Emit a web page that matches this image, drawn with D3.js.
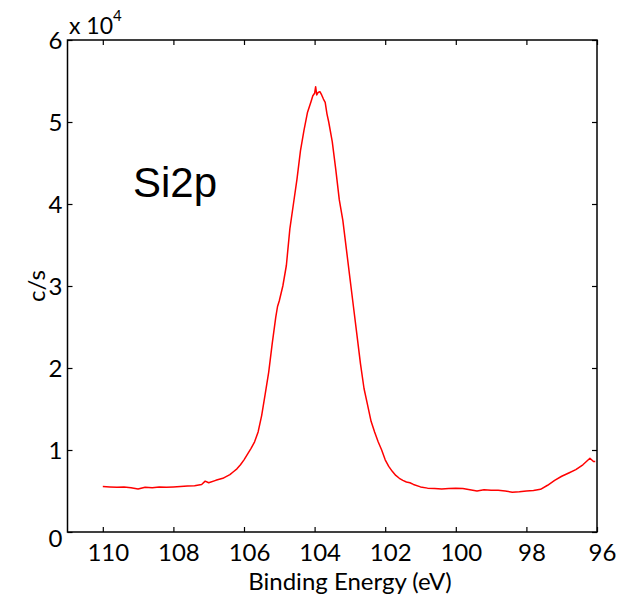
<!DOCTYPE html>
<html>
<head>
<meta charset="utf-8">
<script src="https://cdn.jsdelivr.net/npm/d3@7"></script>
<style>
  html, body { margin: 0; padding: 0; background: #fff; }
  text { font-family: Lato, "Open Sans", sans-serif; fill: #000; }
</style>
</head>
<body>
<svg id="chart" width="620" height="600"></svg>
<script>
// Binding energy (eV)
const energy = [
  110.0, 109.8, 109.6, 109.4, 109.2, 109.0, 108.8, 108.6, 108.4, 108.2,
  108.0, 107.8, 107.6, 107.4, 107.2, 107.1, 107.0, 106.8, 106.6, 106.4,
  106.3, 106.2, 106.1, 106.0, 105.9, 105.8, 105.7, 105.6, 105.5, 105.4,
  105.3, 105.2, 105.1, 105.05, 105.0, 104.9, 104.8, 104.7, 104.6, 104.5,
  104.4, 104.3, 104.2, 104.1, 104.05, 104.0, 103.97, 103.94, 103.9, 103.85,
  103.8, 103.75, 103.7, 103.65, 103.6, 103.5, 103.4, 103.3, 103.2, 103.1,
  103.0, 102.9, 102.8, 102.7, 102.6, 102.5, 102.4, 102.3, 102.2, 102.1,
  102.0, 101.9, 101.8, 101.7, 101.6, 101.5, 101.4, 101.3, 101.2, 101.0,
  100.8, 100.6, 100.4, 100.2, 100.0, 99.8, 99.6, 99.4, 99.2, 99.0,
  98.8, 98.6, 98.4, 98.2, 98.0, 97.8, 97.6, 97.4, 97.2, 97.0,
  96.8, 96.6, 96.4, 96.3, 96.2, 96.1, 96.05
];
// Intensity (c/s)
const counts = [
  5550, 5500, 5450, 5500, 5400, 5250, 5450, 5400, 5500, 5450,
  5500, 5550, 5600, 5650, 5800, 6200, 6000, 6300, 6550, 7000,
  7350, 7700, 8200, 8800, 9500, 10200, 11000, 12200, 14200, 16800,
  19500, 23000, 26200, 27500, 28200, 30000, 32500, 37000, 40000, 43000,
  46500, 49000, 51200, 52500, 53200, 53500, 54300, 53300, 53600, 53700,
  53300, 52800, 52400, 51000, 50000, 47600, 44200, 40500, 38000, 34500,
  31000, 27500, 24000, 20500, 17500, 15500, 13500, 12200, 11000, 10000,
  8800, 8000, 7400, 6900, 6550, 6300, 6100, 6000, 5800, 5500,
  5350, 5300, 5250, 5300, 5330, 5300, 5150, 5000, 5150, 5100,
  5100, 5000, 4850, 4900, 5000, 5050, 5200, 5700, 6300, 6800,
  7200, 7600, 8200, 8600, 9000, 8600, 8600
];
const xTicks = [110, 108, 106, 104, 102, 100, 98, 96];
const yTicks = [0, 1, 2, 3, 4, 5, 6];
const yScaleExp = 4;

const svg = d3.select("#chart");
const L = 67.5, R = 597, T = 40, B = 532;

const x = d3.scaleLinear().domain([111, 96]).range([L, R]);
const y = d3.scaleLinear().domain([0, 6]).range([B, T]);

const tickLen = 5;
const fs = 24;

// Box
svg.append("rect").attr("x", L).attr("y", T).attr("width", R - L).attr("height", B - T)
  .attr("fill", "none").attr("stroke", "#000").attr("stroke-width", 1.5);

// Bottom axis
const xb = svg.append("g").attr("transform", `translate(0,${B})`)
  .call(d3.axisBottom(x).tickValues(xTicks).tickSizeInner(-tickLen).tickSizeOuter(0).tickPadding(tickLen + 7));
xb.select(".domain").remove();
xb.selectAll("line").attr("stroke-width", 1.2);
xb.selectAll("text").attr("font-size", fs).style("font-family", "Lato, sans-serif").attr("dx", 5);
// Top axis ticks
const xt = svg.append("g").attr("transform", `translate(0,${T})`)
  .call(d3.axisTop(x).tickValues(xTicks).tickSizeInner(-tickLen).tickSizeOuter(0).tickFormat(""));
xt.select(".domain").remove();
xt.selectAll("line").attr("stroke-width", 1.2);

// Left axis
const yl = svg.append("g").attr("transform", `translate(${L},0)`)
  .call(d3.axisLeft(y).tickValues(yTicks).tickSizeInner(-tickLen).tickSizeOuter(0).tickPadding(5).tickFormat(d3.format("d")));
yl.select(".domain").remove();
yl.selectAll("line").attr("stroke-width", 1.2);
yl.selectAll("text").attr("font-size", fs).style("font-family", "Lato, sans-serif")
  .attr("dy", d => d === 0 ? "0.6em" : "0.36em");
// Right axis ticks
const yr = svg.append("g").attr("transform", `translate(${R},0)`)
  .call(d3.axisRight(y).tickValues(yTicks).tickSizeInner(-tickLen).tickSizeOuter(0).tickFormat(""));
yr.select(".domain").remove();
yr.selectAll("line").attr("stroke-width", 1.2);

// Exponent
const ex = svg.append("text").attr("x", 69).attr("y", 34).attr("font-size", 23);
ex.append("tspan").text("x 10");
ex.append("tspan").attr("dy", -13).attr("font-size", 15).text(String(yScaleExp));

// Line
const line = d3.line().x((d, i) => x(energy[i])).y(d => y(d / Math.pow(10, yScaleExp)));
svg.append("path").datum(counts).attr("d", line)
  .attr("fill", "none").attr("stroke", "#ff0000").attr("stroke-width", 1.5).attr("stroke-linejoin", "round");

// Axis labels
svg.append("text").attr("x", 350).attr("y", 590).attr("text-anchor", "middle")
  .attr("font-size", fs).text("Binding Energy (eV)");
svg.append("text").attr("transform", "translate(45,286) rotate(-90)").attr("text-anchor", "middle")
  .attr("font-size", fs).text("c/s");

// Annotation
svg.append("text").attr("x", 133).attr("y", 197).attr("font-size", 42)
  .style("font-family", "'Liberation Sans', Arial, sans-serif").text("Si2p");
</script>
</body>
</html>
